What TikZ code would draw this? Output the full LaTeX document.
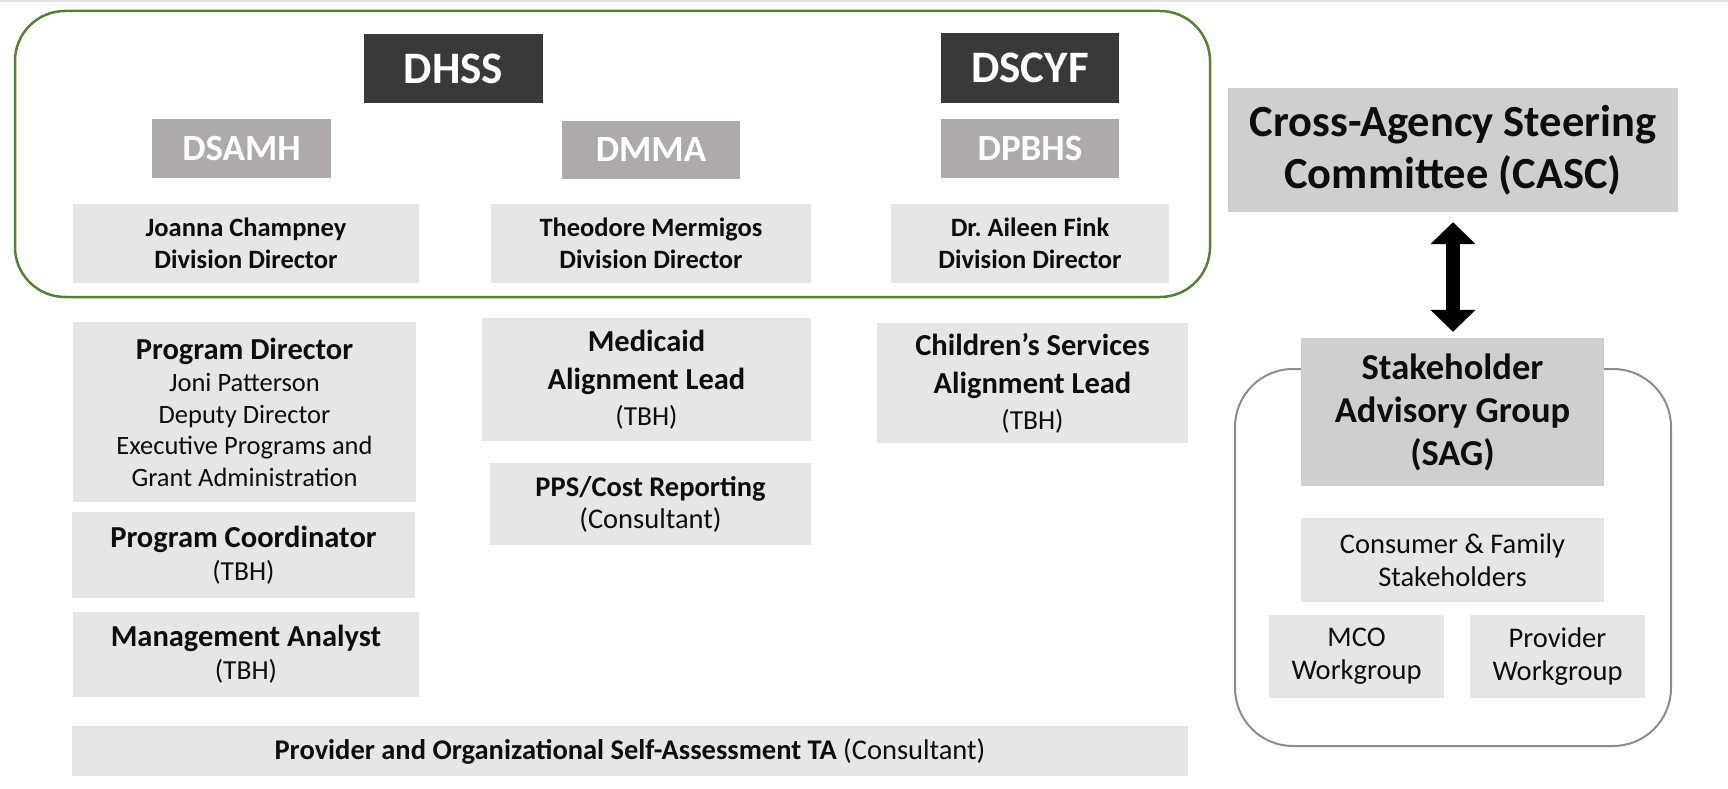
\documentclass[tikz,border=0pt]{standalone}
\usepackage{fontspec}
\setmainfont{Carlito}
\usetikzlibrary{arrows.meta}
\definecolor{darkbg}{HTML}{3B3838}
\definecolor{midbg}{HTML}{AEAAAA}
\definecolor{lightbg}{HTML}{E7E6E6}
\definecolor{cascbg}{HTML}{D0CECE}
\definecolor{greenline}{HTML}{538135}
\definecolor{grayline}{HTML}{8C8C8C}
\definecolor{topband}{HTML}{E6E6E6}
\definecolor{txt}{HTML}{0D0D0D}
\begin{document}
\begin{tikzpicture}[x=1pt,y=-1pt,
  box/.style={inner sep=0pt, align=center, anchor=center},
  darkbox/.style={box, fill=darkbg, text=white, font=\bfseries\fontsize{45}{52}\selectfont},
  midbox/.style={box, fill=midbg, text=white, font=\bfseries\fontsize{37}{44}\selectfont},
  lightbox/.style={box, fill=lightbg, text=txt},
  dirbox/.style={lightbox, font=\bfseries\fontsize{26.5}{32}\selectfont},
  rolebox/.style={lightbox, font=\bfseries\fontsize{30.5}{38.5}\selectfont},
  sagbox/.style={lightbox, font=\fontsize{28.5}{33}\selectfont},
  greyfill/.style={box, fill=cascbg, text=txt},
  groupframe/.style={rounded corners=50pt, line width=2.5pt, draw=greenline},
  sagframe/.style={rounded corners=58pt, line width=2pt, draw=grayline},
  biarrow/.style={line width=14pt, draw=black, {Triangle[width=44pt,length=22pt]}-{Triangle[width=44pt,length=22pt]}}
]
\useasboundingbox (0,0) rectangle (1728,789);
\fill[topband] (0,0) rectangle (1728,2.5);

% frames
\draw[groupframe] (15,11) rectangle (1210,297);
\draw[sagframe] (1235,369) rectangle (1671,746);

% agencies
\node[darkbox, minimum width=179pt, minimum height=69pt] (dhss) at (453.5,68.5) {DHSS};
\node[darkbox, minimum width=178pt, minimum height=70pt] (dscyf) at (1030,68) {DSCYF};
\node[midbox, minimum width=179pt, minimum height=59pt] (dsamh) at (241.5,148.5) {DSAMH};
\node[midbox, minimum width=178pt, minimum height=58pt] (dmma) at (651,150) {DMMA};
\node[midbox, minimum width=178pt, minimum height=59pt] (dpbhs) at (1030,148.5) {DPBHS};

% directors
\node[dirbox, minimum width=346pt, minimum height=79pt] (joanna) at (246,243.5) {Joanna Champney\\Division Director};
\node[dirbox, minimum width=320pt, minimum height=79pt] (theodore) at (651,243.5) {Theodore Mermigos\\Division Director};
\node[dirbox, minimum width=278pt, minimum height=79pt] (aileen) at (1030,243.5) {Dr.\ Aileen Fink\\Division Director};

% DSAMH staff
\node[lightbox, minimum width=343pt, minimum height=180pt, font=\fontsize{26.5}{31.5}\selectfont] (progdir) at (244.5,412)
  {{\bfseries\fontsize{30.5}{34}\selectfont Program Director}\\[1pt]Joni Patterson\\Deputy Director\\Executive Programs and\\Grant Administration};
\node[lightbox, minimum width=343pt, minimum height=86pt, font=\fontsize{27.5}{33}\selectfont] (progcoord) at (243.5,555)
  {{\bfseries\fontsize{30.5}{34}\selectfont Program Coordinator}\\(TBH)};
\node[lightbox, minimum width=346pt, minimum height=85pt, font=\fontsize{27.5}{33}\selectfont] (mgmt) at (246,654.5)
  {{\bfseries\fontsize{30.5}{34}\selectfont Management Analyst}\\(TBH)};

% DMMA staff
\node[rolebox, minimum width=329pt, minimum height=123pt] (medicaid) at (646.5,379.5)
  {Medicaid\\Alignment Lead\\[-3pt]{\mdseries\fontsize{27.5}{32}\selectfont (TBH)}};
\node[lightbox, minimum width=321pt, minimum height=82pt, font=\fontsize{28.5}{32}\selectfont] (pps) at (650.5,504)
  {{\bfseries PPS/Cost Reporting}\\(Consultant)};

% DPBHS staff
\node[rolebox, minimum width=311pt, minimum height=120pt] (children) at (1032.5,383)
  {Children’s Services\\Alignment Lead\\[-3pt]{\mdseries\fontsize{27.5}{32}\selectfont (TBH)}};

% bottom bar
\node[lightbox, minimum width=1116pt, minimum height=50pt, font=\fontsize{28.5}{32}\selectfont] (provorg) at (630,751)
  {\textbf{Provider and Organizational Self-Assessment TA} (Consultant)};

% right side
\node[greyfill, minimum width=450pt, minimum height=124pt, font=\bfseries\fontsize{44.5}{52}\selectfont] (casc) at (1453,150)
  {Cross-Agency Steering\\Committee (CASC)};
\node[greyfill, minimum width=303pt, minimum height=148pt, font=\bfseries\fontsize{36.5}{43}\selectfont] (sag) at (1452.5,412)
  {Stakeholder\\Advisory Group\\(SAG)};
\node[sagbox, minimum width=303pt, minimum height=84pt] (consumer) at (1452.5,560) {Consumer \& Family\\Stakeholders};
\node[sagbox, minimum width=175pt, minimum height=83pt] (mco) at (1356.5,656.5) {MCO\\Workgroup};
\node[sagbox, minimum width=175pt, minimum height=83pt] (provwg) at (1557.5,656.5) {Provider\\Workgroup};

\draw[biarrow, shorten <=10pt, shorten >=6pt] (casc.south) -- (casc.south |- sag.north);
\end{tikzpicture}
\end{document}
